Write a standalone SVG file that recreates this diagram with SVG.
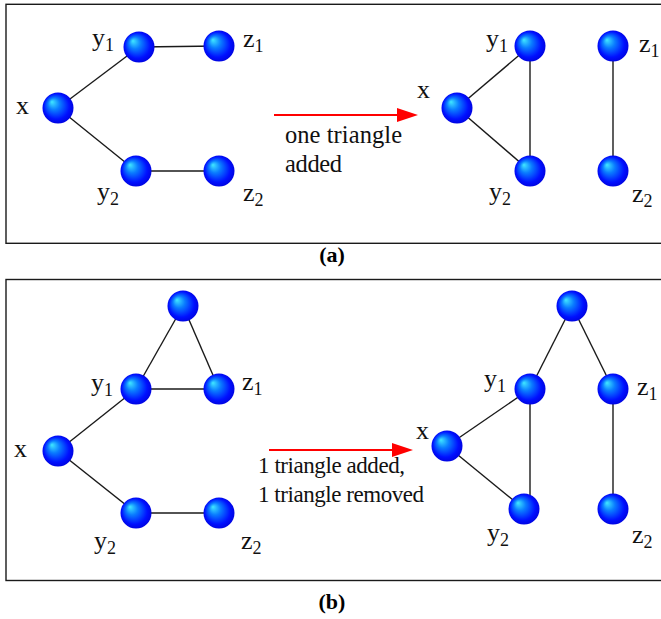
<svg xmlns="http://www.w3.org/2000/svg" width="661" height="619" viewBox="0 0 661 619">
<style>
.frame{fill:none;stroke:#1a1a1a;stroke-width:1.4}
.edge{stroke:#1a1a1a;stroke-width:1.4;fill:none}
.arrow{stroke:#ff0000;stroke-width:2.2;fill:none}
.node{fill:url(#ball)}
.lbl{font-family:"Liberation Serif","Times New Roman",serif;font-size:26px;fill:#111}
.sub{font-size:18px}
.note{font-family:"Liberation Serif","Times New Roman",serif;font-size:24.5px;fill:#111}
.noteb{font-size:23px}
.cap{font-family:"Liberation Serif","Times New Roman",serif;font-size:22px;font-weight:bold;fill:#000;text-anchor:middle}
</style>
<defs>
<radialGradient id="ball" cx="0.5" cy="0.5" r="0.55" fx="0.3" fy="0.3">
<stop offset="0" stop-color="#40e8ff"/>
<stop offset="0.35" stop-color="#0a7cff"/>
<stop offset="0.75" stop-color="#0010ff"/>
<stop offset="1" stop-color="#0000d8"/>
</radialGradient>
<marker id="head" markerUnits="userSpaceOnUse" markerWidth="22" markerHeight="14" refX="3" refY="7" orient="auto">
<path d="M0,0 L21,7 L0,14 z" fill="#ff0000"/>
</marker>
</defs>

<rect class="frame" x="6" y="4.3" width="662" height="239"/>
<rect class="frame" x="6" y="279.5" width="662" height="301"/>

<g id="connectors">
<line class="edge" x1="58" y1="108" x2="139" y2="47"/>
<line class="edge" x1="58" y1="108" x2="136" y2="171"/>
<line class="edge" x1="139" y1="47" x2="219" y2="46"/>
<line class="edge" x1="136" y1="171" x2="219" y2="171"/>
<line class="edge" x1="457" y1="108" x2="530" y2="46"/>
<line class="edge" x1="457" y1="108" x2="530" y2="171"/>
<line class="edge" x1="530" y1="46" x2="530" y2="171"/>
<line class="edge" x1="613" y1="46" x2="613" y2="171"/>
<line class="edge" x1="183" y1="306" x2="136" y2="389"/>
<line class="edge" x1="183" y1="306" x2="219" y2="389"/>
<line class="edge" x1="136" y1="389" x2="219" y2="389"/>
<line class="edge" x1="58" y1="451" x2="136" y2="389"/>
<line class="edge" x1="58" y1="451" x2="136" y2="513"/>
<line class="edge" x1="136" y1="513" x2="219" y2="513"/>
<line class="edge" x1="572" y1="306" x2="530" y2="389"/>
<line class="edge" x1="572" y1="306" x2="613" y2="389"/>
<line class="edge" x1="530" y1="389" x2="530" y2="509"/>
<line class="edge" x1="447" y1="446" x2="530" y2="389"/>
<line class="edge" x1="447" y1="446" x2="524" y2="509"/>
<line class="edge" x1="613" y1="389" x2="613" y2="509"/>
<line class="arrow" x1="274" y1="115" x2="400" y2="115" marker-end="url(#head)"/>
<line class="arrow" x1="269" y1="450" x2="395" y2="450" marker-end="url(#head)"/>
</g>

<g id="a-x"><circle class="node" cx="58" cy="108" r="15.5"/><text class="lbl" x="16" y="114">x</text></g>
<g id="a-y1"><circle class="node" cx="139" cy="47" r="15.5"/><text class="lbl" x="92" y="46">y<tspan class="sub" dy="5">1</tspan></text></g>
<g id="a-z1"><circle class="node" cx="219" cy="46" r="15.5"/><text class="lbl" x="243" y="47">z<tspan class="sub" dy="5">1</tspan></text></g>
<g id="a-y2"><circle class="node" cx="136" cy="171" r="15.5"/><text class="lbl" x="97" y="200">y<tspan class="sub" dy="5">2</tspan></text></g>
<g id="a-z2"><circle class="node" cx="219" cy="171" r="15.5"/><text class="lbl" x="243" y="201">z<tspan class="sub" dy="5">2</tspan></text></g>

<g id="a2-x"><circle class="node" cx="457" cy="108" r="15.5"/><text class="lbl" x="417" y="98">x</text></g>
<g id="a2-y1"><circle class="node" cx="530" cy="46" r="15.5"/><text class="lbl" x="486" y="47">y<tspan class="sub" dy="5">1</tspan></text></g>
<g id="a2-z1"><circle class="node" cx="613" cy="46" r="15.5"/><text class="lbl" x="639" y="52">z<tspan class="sub" dy="5">1</tspan></text></g>
<g id="a2-y2"><circle class="node" cx="530" cy="171" r="15.5"/><text class="lbl" x="489" y="200">y<tspan class="sub" dy="5">2</tspan></text></g>
<g id="a2-z2"><circle class="node" cx="613" cy="171" r="15.5"/><text class="lbl" x="632" y="202">z<tspan class="sub" dy="5">2</tspan></text></g>

<g id="a-note"><text class="note" x="285" y="143" textLength="117" lengthAdjust="spacing">one triangle</text><text class="note" x="285" y="172" textLength="57" lengthAdjust="spacing">added</text></g>
<text class="cap" x="332" y="262">(a)</text>

<g id="b-top"><circle class="node" cx="183" cy="306" r="15.5"/></g>
<g id="b-y1"><circle class="node" cx="136" cy="389" r="15.5"/><text class="lbl" x="91" y="391">y<tspan class="sub" dy="5">1</tspan></text></g>
<g id="b-z1"><circle class="node" cx="219" cy="389" r="15.5"/><text class="lbl" x="242" y="390">z<tspan class="sub" dy="5">1</tspan></text></g>
<g id="b-x"><circle class="node" cx="58" cy="451" r="15.5"/><text class="lbl" x="14" y="457">x</text></g>
<g id="b-y2"><circle class="node" cx="136" cy="513" r="15.5"/><text class="lbl" x="94" y="549">y<tspan class="sub" dy="5">2</tspan></text></g>
<g id="b-z2"><circle class="node" cx="219" cy="513" r="15.5"/><text class="lbl" x="241" y="549">z<tspan class="sub" dy="5">2</tspan></text></g>

<g id="b2-top"><circle class="node" cx="572" cy="306" r="15.5"/></g>
<g id="b2-y1"><circle class="node" cx="530" cy="389" r="15.5"/><text class="lbl" x="484" y="387">y<tspan class="sub" dy="5">1</tspan></text></g>
<g id="b2-z1"><circle class="node" cx="613" cy="389" r="15.5"/><text class="lbl" x="637" y="395">z<tspan class="sub" dy="5">1</tspan></text></g>
<g id="b2-x"><circle class="node" cx="447" cy="446" r="15.5"/><text class="lbl" x="416" y="439">x</text></g>
<g id="b2-y2"><circle class="node" cx="524" cy="509" r="15.5"/><text class="lbl" x="487" y="541">y<tspan class="sub" dy="5">2</tspan></text></g>
<g id="b2-z2"><circle class="node" cx="613" cy="509" r="15.5"/><text class="lbl" x="632" y="543">z<tspan class="sub" dy="5">2</tspan></text></g>

<g id="b-note"><text class="note noteb" x="258" y="473" textLength="147" lengthAdjust="spacing">1 triangle added,</text><text class="note noteb" x="258" y="502" textLength="166" lengthAdjust="spacing">1 triangle removed</text></g>
<text class="cap" x="332" y="609">(b)</text>
</svg>
